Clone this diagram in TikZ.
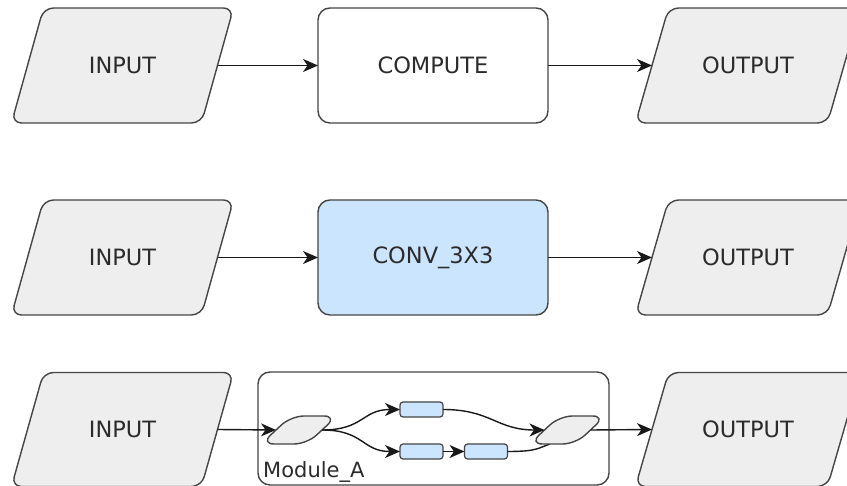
\documentclass[tikz,border=0pt]{standalone}
\usepackage{fontspec}
\setmainfont{DejaVu Sans}
\usetikzlibrary{arrows.meta}
\definecolor{parafill}{HTML}{EEEEEE}
\definecolor{convfill}{HTML}{CCE5FF}
\definecolor{strokecol}{HTML}{454545}
\definecolor{txtcol}{HTML}{2B2B2B}
% name, cx, cy, half width (midline), half height, half skew, corner radius, text
\newcommand{\paranode}[8]{%
  \draw[parashape, rounded corners=#7]
    (#2-#4+#6,#3-#5) -- (#2+#4+#6,#3-#5) -- (#2+#4-#6,#3+#5) -- (#2-#4-#6,#3+#5) -- cycle;
  \node[paratext, minimum width=2*#4, minimum height=2*#5] (#1) at (#2,#3) {#8};
}
\begin{document}
\begin{tikzpicture}[x=1pt,y=-1pt,
  parashape/.style={draw=strokecol, fill=parafill, line width=1.4pt},
  paratext/.style={inner sep=0pt, outer sep=0pt, text=txtcol, font=\fontsize{22.5}{27}\selectfont},
  procbox/.style={draw=strokecol, line width=1.4pt, rounded corners=12pt, inner sep=0pt, outer sep=0pt,
    text=txtcol, font=\fontsize{22.5}{27}\selectfont, minimum width=230pt, minimum height=115pt},
  modbox/.style={draw=strokecol, line width=1.4pt, rounded corners=12pt, inner sep=0pt, outer sep=0pt},
  smallbox/.style={draw=strokecol, fill=convfill, line width=1.2pt, rounded corners=3pt, inner sep=0pt,
    outer sep=0pt, minimum width=43pt, minimum height=15pt},
  edge/.style={draw=black!90, line width=1.4pt, -{Stealth[length=15pt,width=13pt,inset=4.5pt]}},
  plainedge/.style={draw=black!90, line width=1.4pt}]
\useasboundingbox (0,0) rectangle (847,486);
\clip (0,0) rectangle (847,486);

% row 1
\paranode{in1}{122.5}{65.5}{95}{57.5}{16}{10pt}{INPUT}
\node[procbox] (comp) at (433,65.5) {COMPUTE};
\paranode{out1}{748}{65.5}{96}{57.5}{16.5}{10pt}{OUTPUT}
\draw[edge] (in1.east) -- (comp.west);
\draw[edge] (comp.east) -- (out1.west);

% row 2
\paranode{in2}{122.5}{257.5}{95}{57.5}{16}{10pt}{INPUT}
\node[procbox, fill=convfill] (conv) at (433,257.5) {CONV\_3X3};
\paranode{out2}{748}{257.5}{96}{57.5}{16.5}{10pt}{OUTPUT}
\draw[edge] (in2.east) -- (conv.west);
\draw[edge] (conv.east) -- (out2.west);

% row 3
\paranode{in3}{122.5}{429.5}{95}{57}{16}{10pt}{INPUT}
\paranode{out3}{748}{429.5}{96}{57}{16.5}{10pt}{OUTPUT}
\node[modbox, minimum width=351pt, minimum height=113pt] (mod) at (433.5,428.5) {};
\node[anchor=base west, inner sep=0pt, text=txtcol, font=\fontsize{21}{25}\selectfont] (modlbl) at (263,478) {Module\_A};

\node[smallbox] (ub) at (421.5,409.5) {};
\node[smallbox] (lb1) at (421.5,451.5) {};
\node[smallbox] (lb2) at (486,451.5) {};
\draw[plainedge] (lb2.east) .. controls +(30,0) and +(-12,4) .. (550,444);
\paranode{lsm}{299}{430}{23}{14}{15}{13pt}{}
\paranode{rsm}{567.5}{430}{23}{14}{15}{13pt}{}

\draw[edge] (in3.east) -- (lsm.west);
\draw[edge] (lsm.east) .. controls +(42,0) and +(-38,0) .. (ub.west);
\draw[edge] (lsm.east) .. controls +(42,0) and +(-38,0) .. (lb1.west);
\draw[edge] (lb1.east) -- (lb2.west);
\draw[edge] (ub.east) .. controls +(48,0) and +(-48,0) .. (rsm.west);
\draw[edge] (rsm.east) -- (out3.west);
\end{tikzpicture}
\end{document}
